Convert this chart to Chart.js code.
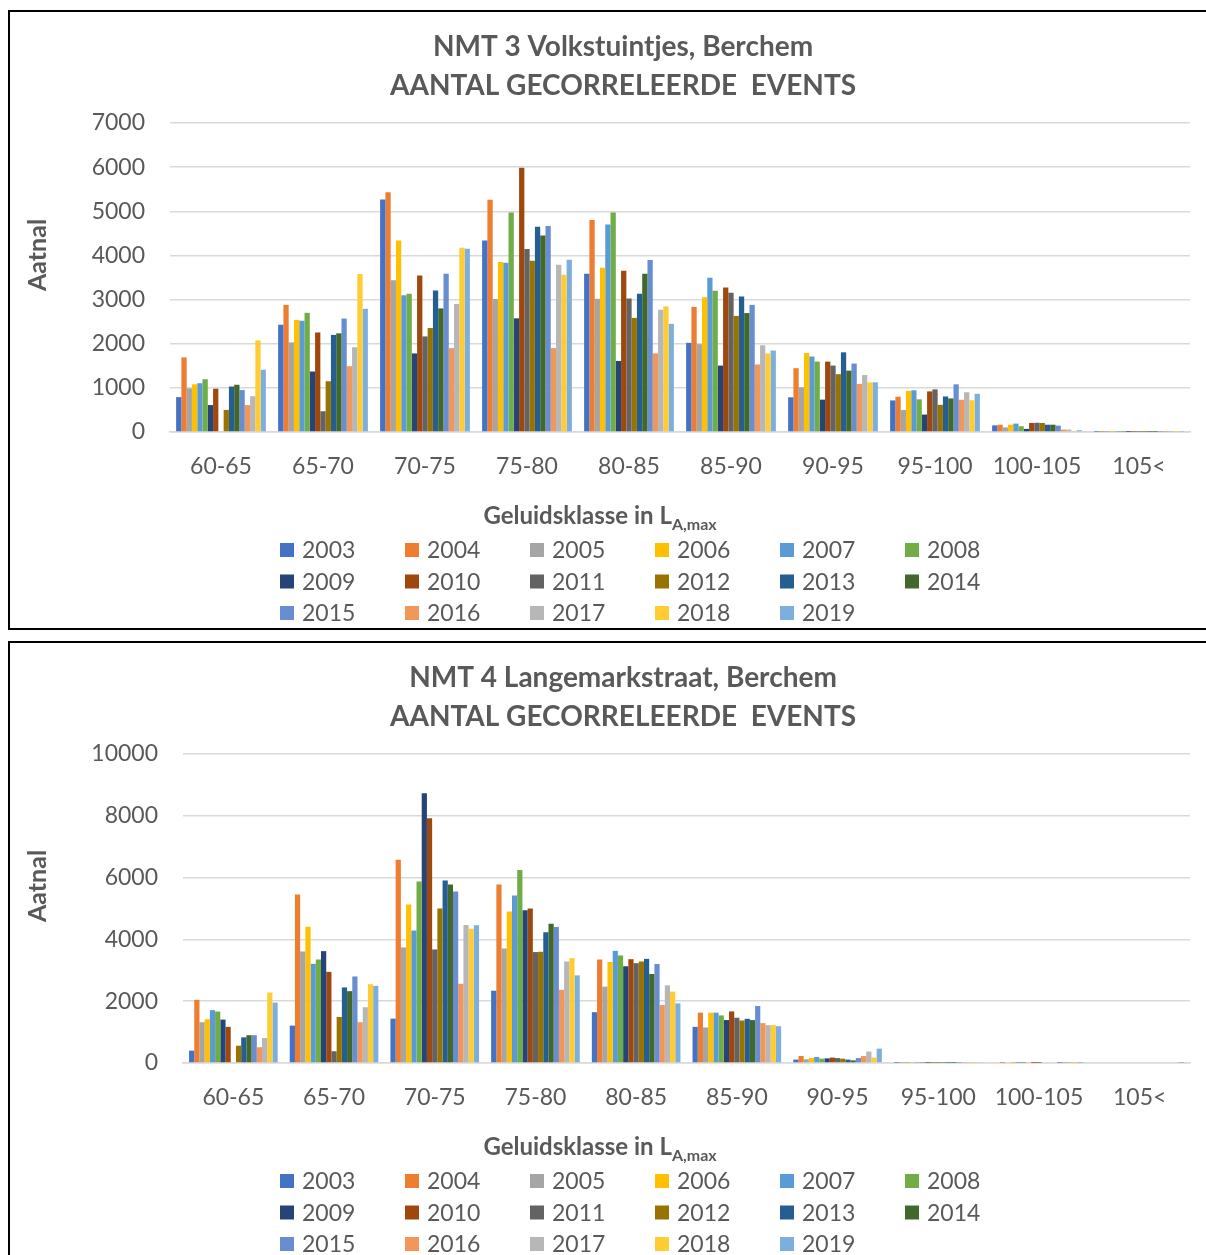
<!DOCTYPE html>
<html>
<head>
<meta charset="utf-8">
<script src="https://cdn.jsdelivr.net/npm/chart.js@4.4.1/dist/chart.umd.min.js"></script>
<style>
    body { margin: 0; width: 1206px; height: 1255px; overflow: hidden; background: #fff; }
    .panel { position: absolute; left: 8px; width: 1232px; height: 620px; }
    .panel canvas { position: absolute; left: 0; top: 0; }
    .frame { position: absolute; left: 0; top: 0; width: 1232px; height: 620px; border: 2px solid #000; box-sizing: border-box; pointer-events: none; }
</style>
</head>
<body>
<div class="panel" style="top:10px"><canvas id="chart3" width="1232" height="620"></canvas><div class="frame"></div></div>
<div class="panel" style="top:641px"><canvas id="chart4" width="1232" height="620"></canvas><div class="frame"></div></div>
<script>
const categories = ['60-65', '65-70', '70-75', '75-80', '80-85', '85-90', '90-95', '95-100', '100-105', '105<'];
const years = ['2003', '2004', '2005', '2006', '2007', '2008', '2009', '2010', '2011', '2012', '2013', '2014', '2015', '2016', '2017', '2018', '2019'];
const colors = ['#4472C4', '#ED7D31', '#A5A5A5', '#FFC000', '#5B9BD5', '#70AD47', '#264478', '#9E480E', '#636363',
    '#997300', '#255E91', '#43682B', '#698ED0', '#F1975A', '#B7B7B7', '#FFCD33', '#7CAFDD'];

// NMT 3 Volkstuintjes
const nmt3_2003 = [790, 2430, 5265, 4340, 3585, 2020, 786, 715, 150, 3];
const nmt3_2004 = [1690, 2880, 5430, 5260, 4805, 2835, 1445, 800, 165, 2];
const nmt3_2005 = [990, 2030, 3440, 3015, 3020, 1990, 1015, 500, 105, 2];
const nmt3_2006 = [1080, 2540, 4340, 3850, 3720, 3055, 1790, 930, 165, 3];
const nmt3_2007 = [1105, 2520, 3100, 3835, 4700, 3495, 1710, 945, 190, 4];
const nmt3_2008 = [1195, 2700, 3130, 4970, 4970, 3200, 1595, 740, 130, 2];
const nmt3_2009 = [610, 1370, 1780, 2575, 1610, 1505, 733, 395, 70, 1];
const nmt3_2010 = [980, 2255, 3545, 5985, 3655, 3275, 1595, 920, 205, 3];
const nmt3_2011 = [0, 470, 2165, 4145, 3025, 3155, 1505, 965, 210, 3];
const nmt3_2012 = [500, 1150, 2355, 3880, 2585, 2630, 1310, 615, 205, 2];
const nmt3_2013 = [1030, 2200, 3205, 4650, 3130, 3070, 1805, 805, 165, 3];
const nmt3_2014 = [1070, 2235, 2800, 4450, 3585, 2695, 1390, 760, 165, 2];
const nmt3_2015 = [950, 2570, 3585, 4665, 3895, 2880, 1550, 1080, 145, 4];
const nmt3_2016 = [610, 1490, 1900, 1900, 1780, 1530, 1090, 730, 55, 1];
const nmt3_2017 = [810, 1920, 2900, 3790, 2770, 1965, 1290, 900, 55, 1];
const nmt3_2018 = [2075, 3580, 4175, 3560, 2845, 1780, 1125, 720, 10, 1];
const nmt3_2019 = [1410, 2790, 4150, 3900, 2450, 1845, 1125, 865, 40, 8];

// NMT 4 Langemarkstraat
const nmt4_2003 = [400, 1210, 1435, 2340, 1645, 1170, 110, 5, 0, 0];
const nmt4_2004 = [2045, 5450, 6575, 5775, 3350, 1630, 225, 10, 2, 0];
const nmt4_2005 = [1320, 3610, 3740, 3705, 2470, 1150, 120, 5, 0, 0];
const nmt4_2006 = [1415, 4410, 5130, 4905, 3270, 1630, 160, 8, 1, 0];
const nmt4_2007 = [1710, 3210, 4290, 5420, 3630, 1630, 195, 10, 2, 0];
const nmt4_2008 = [1665, 3350, 5875, 6250, 3480, 1540, 140, 6, 1, 0];
const nmt4_2009 = [1405, 3620, 8730, 4945, 3130, 1390, 150, 5, 0, 0];
const nmt4_2010 = [1170, 2950, 7920, 5000, 3360, 1670, 175, 8, 1, 0];
const nmt4_2011 = [0, 380, 3675, 3590, 3230, 1465, 160, 6, 1, 0];
const nmt4_2012 = [560, 1490, 5000, 3600, 3285, 1375, 140, 5, 0, 0];
const nmt4_2013 = [830, 2445, 5905, 4235, 3370, 1430, 110, 5, 0, 0];
const nmt4_2014 = [900, 2325, 5775, 4505, 2880, 1390, 85, 4, 0, 0];
const nmt4_2015 = [900, 2800, 5550, 4405, 3205, 1845, 160, 8, 1, 0];
const nmt4_2016 = [510, 1320, 2565, 2370, 1875, 1290, 225, 12, 2, 0];
const nmt4_2017 = [810, 1805, 4470, 3285, 2515, 1225, 370, 15, 2, 0];
const nmt4_2018 = [2280, 2550, 4345, 3395, 2310, 1225, 175, 6, 1, 0];
const nmt4_2019 = [1955, 2495, 4460, 2835, 1930, 1190, 465, 20, 3, 1];

const nmt3Series = [nmt3_2003, nmt3_2004, nmt3_2005, nmt3_2006, nmt3_2007, nmt3_2008, nmt3_2009, nmt3_2010, nmt3_2011,
    nmt3_2012, nmt3_2013, nmt3_2014, nmt3_2015, nmt3_2016, nmt3_2017, nmt3_2018, nmt3_2019];
const nmt4Series = [nmt4_2003, nmt4_2004, nmt4_2005, nmt4_2006, nmt4_2007, nmt4_2008, nmt4_2009, nmt4_2010, nmt4_2011,
    nmt4_2012, nmt4_2013, nmt4_2014, nmt4_2015, nmt4_2016, nmt4_2017, nmt4_2018, nmt4_2019];

const textColor = '#595959';
const fontFamily = 'Lato, "Open Sans", sans-serif';

// titles, axis titles and the 6-column legend are drawn by hand
const decor = {
    id: 'decor',
    afterDraw(chart, args, opts) {
        let ctx = chart.ctx;
        ctx.save();
        ctx.fillStyle = textColor;
        ctx.textBaseline = 'middle';
        ctx.textAlign = 'center';
        ctx.font = 'bold 28px ' + fontFamily;
        ctx.fillText(opts.title[0], 615, 37);
        ctx.fillText(opts.title[1], 615, 76);

        // x axis title with subscript
        ctx.font = 'bold 24px ' + fontFamily;
        let main = 'Geluidsklasse in L';
        let w1 = ctx.measureText(main).width;
        ctx.font = 'bold 16px ' + fontFamily;
        let w2 = ctx.measureText('A,max').width;
        let x0 = 592 - (w1 + w2) / 2;
        ctx.textAlign = 'left';
        ctx.font = 'bold 24px ' + fontFamily;
        ctx.fillText(main, x0, 506);
        ctx.font = 'bold 16px ' + fontFamily;
        ctx.fillText('A,max', x0 + w1, 515);

        // legend
        ctx.font = '23px ' + fontFamily;
        chart.data.datasets.forEach((ds, i) => {
            let x = 272 + (i % 6) * 125;
            let y = 540 + Math.floor(i / 6) * 31.5;
            ctx.fillStyle = ds.backgroundColor;
            ctx.fillRect(x, y - 7, 14, 14);
            ctx.fillStyle = textColor;
            ctx.fillText(ds.label, x + 22, y + 1);
        });

        // y axis title
        ctx.translate(30, 245);
        ctx.rotate(-Math.PI / 2);
        ctx.textAlign = 'center';
        ctx.font = 'bold 25px ' + fontFamily;
        ctx.fillText('Aatnal', 0, 0);
        ctx.restore();
    }
};

function makeChart(id, series, title, yMax, yStep, axisWidth) {
    let ctx = document.getElementById(id).getContext('2d');
    return new Chart(ctx, {
        type: 'bar',
        data: {
            labels: categories,
            datasets: series.map((values, i) => ({
                label: years[i],
                data: values,
                backgroundColor: colors[i],
                borderWidth: 0,
                categoryPercentage: 0.88,
                barPercentage: 1.0
            }))
        },
        options: {
            responsive: false,
            animation: false,
            devicePixelRatio: 1,
            layout: { padding: { left: 0, right: 50, top: 113, bottom: 138 } },
            plugins: {
                legend: { display: false },
                tooltip: { enabled: false },
                decor: { title: title }
            },
            scales: {
                x: {
                    grid: { display: false, drawTicks: false },
                    border: { display: true, color: '#d9d9d9', width: 1.5 },
                    ticks: { color: textColor, font: { family: fontFamily, size: 23 }, padding: 21, maxRotation: 0, autoSkip: false },
                    afterFit: scale => { scale.height = 60; }
                },
                y: {
                    min: 0,
                    max: yMax,
                    grid: { color: '#d9d9d9', lineWidth: 1.5, drawTicks: false },
                    border: { display: false },
                    ticks: {
                        stepSize: yStep,
                        color: textColor,
                        font: { family: fontFamily, size: 23 },
                        padding: 25,
                        callback: value => String(value)
                    },
                    afterFit: scale => { scale.width = axisWidth; }
                }
            }
        },
        plugins: [decor]
    });
}

makeChart('chart3', nmt3Series, ['NMT 3 Volkstuintjes, Berchem', 'AANTAL GECORRELEERDE  EVENTS'], 7000, 1000, 162);
makeChart('chart4', nmt4Series, ['NMT 4 Langemarkstraat, Berchem', 'AANTAL GECORRELEERDE  EVENTS'], 10000, 2000, 175);
</script>
</body>
</html>
